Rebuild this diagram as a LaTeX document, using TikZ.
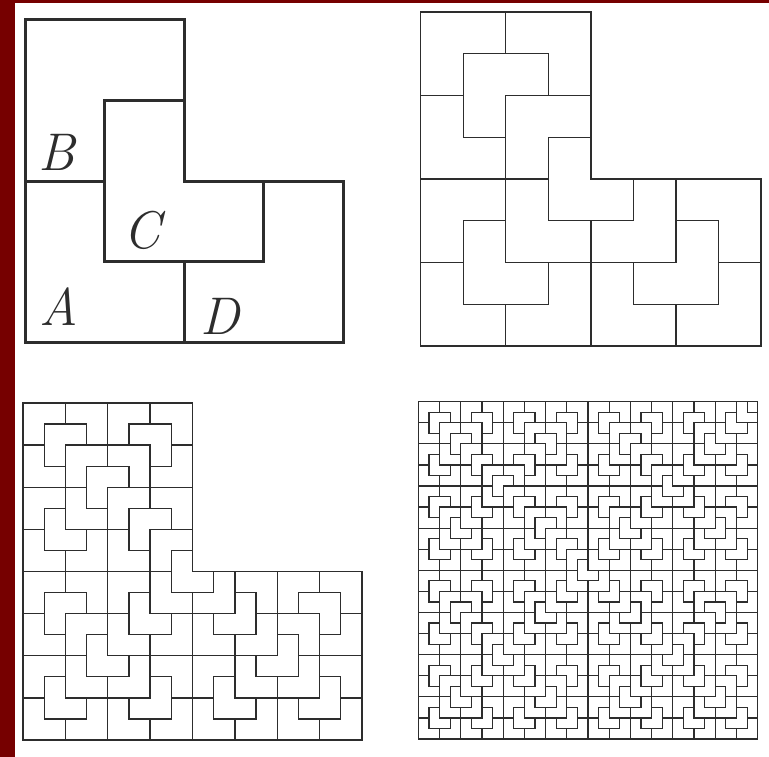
\documentclass[tikz,border=0pt]{standalone}
\definecolor{bordercol}{RGB}{118,0,0}
\definecolor{inkcol}{RGB}{45,45,45}
\newcommand\Lrec[1]{%
  \ifnum#1<1
    \draw (0,0) -- (2,0) -- (2,1) -- (1,1) -- (1,2) -- (0,2) -- cycle;%
  \else
    \begin{scope}[scale=0.5]\Lrec{\numexpr#1-1\relax}\end{scope}%
    \begin{scope}[shift={(0.5,0.5)},scale=0.5]\Lrec{\numexpr#1-1\relax}\end{scope}%
    \begin{scope}[shift={(0,1)},scale=0.5,rotate around={-90:(1,1)}]\Lrec{\numexpr#1-1\relax}\end{scope}%
    \begin{scope}[shift={(1,0)},scale=0.5,rotate around={90:(1,1)}]\Lrec{\numexpr#1-1\relax}\end{scope}%
  \fi}
\tikzset{
  thickpanel/.style={line width=3pt,draw=inkcol,line join=miter},
  thinpanel/.style={line width=1.3pt,draw=inkcol,line join=miter},
  finepanel/.style={line width=1.2pt,draw=inkcol,line join=miter},
  lbl/.style={inner sep=0pt,font=\fontsize{53}{53}\selectfont\itshape,text=inkcol}
}
\begin{document}
\begin{tikzpicture}[x=1pt,y=1pt]
\useasboundingbox (0,0) rectangle (769,757);
\fill[white] (0,0) rectangle (769,757);
\fill[bordercol] (0,0) rectangle (14.7,757);
\fill[bordercol] (0,754) rectangle (769,757);
% panel 1
\begin{scope}[shift={(25.5,414.7)},xscale=158.75,yscale=161.15,every path/.style={thickpanel}]
  \Lrec{1}
\end{scope}
\node[lbl] (la) at (59,450.3) {A};
\node[lbl] (lb) at (57,605) {B};
\node[lbl] (lc) at (142,527) {C};
\node[lbl] (ld) at (220,441) {D};
% panel 2
\begin{scope}[shift={(420.7,411)},xscale=170.15,yscale=167,every path/.style={thinpanel}]
  \Lrec{2}
\end{scope}
% panel 3
\begin{scope}[shift={(23,17)},xscale=169.5,yscale=168.5,every path/.style={thinpanel}]
  \Lrec{3}
\end{scope}
% panel 4
\begin{scope}[shift={(418.3,18)},xscale=339.4,yscale=337.3]
  \begin{scope}
    \clip (0,0) rectangle (1,1);
    \begin{scope}[every path/.style={finepanel}]
      \Lrec{5}
    \end{scope}
  \end{scope}
  \draw[finepanel] (0,0) rectangle (1,1);
\end{scope}
\end{tikzpicture}
\end{document}
